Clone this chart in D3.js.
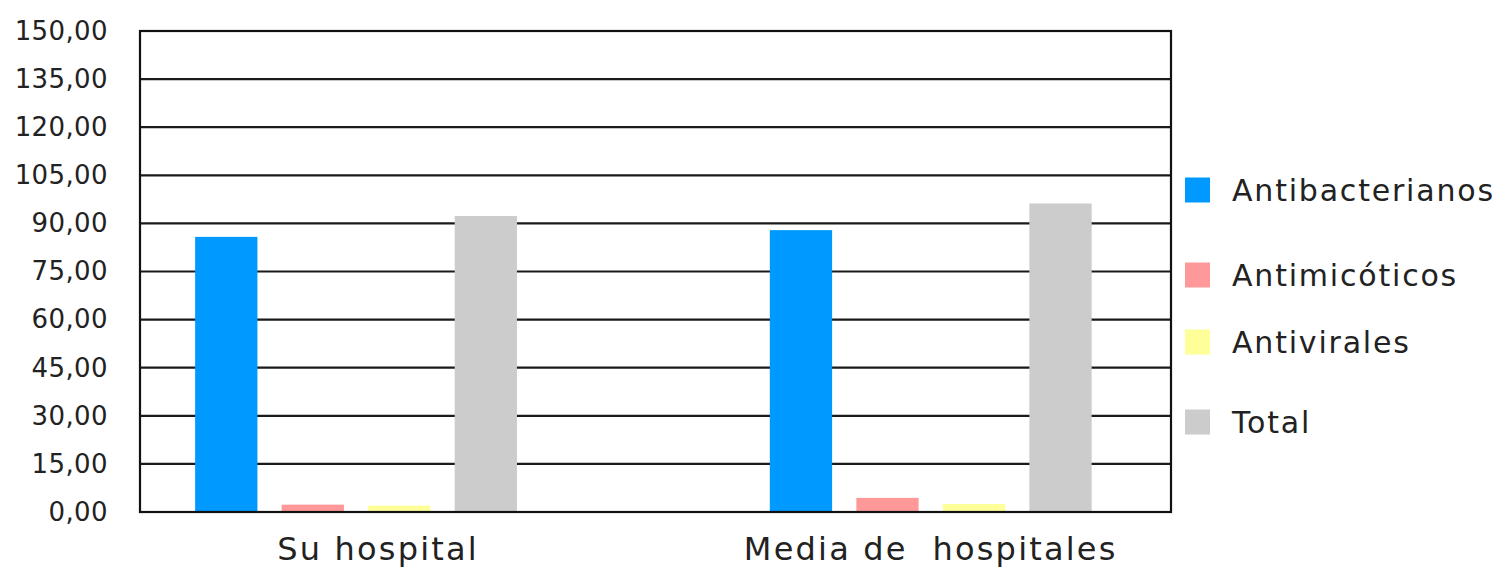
<!DOCTYPE html>
<html>
<head>
<meta charset="utf-8">
<script src="https://cdn.jsdelivr.net/npm/d3@7"></script>
<style>
  body { margin: 0; background: #fff; }
  svg { display: block; font-family: "DejaVu Sans", Verdana, sans-serif; }
</style>
</head>
<body>
<div id="chart"></div>
<script>
// chart data
var categories = ["Su hospital", "Media de  hospitales"];
var seriesNames = ["Antibacterianos", "Antimicóticos", "Antivirales", "Total"];
var seriesColors = ["#0099ff", "#ff9999", "#ffff99", "#cccccc"];
var suHospital = [85.8, 2.3, 2.0, 92.3];
var mediaHospitales = [87.9, 4.4, 2.5, 96.2];
var yTicks = [0, 15, 30, 45, 60, 75, 90, 105, 120, 135, 150];

var values = [suHospital, mediaHospitales];

var width = 1499, height = 571;
var margin = { top: 31, right: 328, bottom: 59, left: 140 };
var plotW = width - margin.left - margin.right;
var plotH = height - margin.top - margin.bottom;

var svg = d3.select("#chart").append("svg")
    .attr("width", width)
    .attr("height", height);

var g = svg.append("g")
    .attr("transform", "translate(" + margin.left + "," + margin.top + ")");

var y = d3.scaleLinear().domain([0, 150]).range([plotH, 0]);

var x0 = d3.scaleBand()
    .domain(categories)
    .range([0, plotW])
    .paddingInner(0.44)
    .paddingOuter(0.117)
    .align(0.41);

var x1 = d3.scaleBand()
    .domain(seriesNames)
    .range([0, x0.bandwidth()])
    .paddingInner(0.28);

// grid lines
g.append("g").selectAll("line")
    .data(yTicks)
    .enter()
    .append("line")
    .attr("x1", 0)
    .attr("x2", plotW)
    .attr("y1", function (d) { return y(d); })
    .attr("y2", function (d) { return y(d); })
    .attr("stroke", "#1a1a1a")
    .attr("stroke-width", 2.2);

// bars
var groups = g.selectAll(".grp")
    .data(categories)
    .enter()
    .append("g")
    .attr("class", "grp")
    .attr("transform", function (d) { return "translate(" + x0(d) + ",0)"; });

groups.selectAll("rect")
    .data(function (d, i) {
        return seriesNames.map(function (s, j) { return { s: s, v: values[i][j], c: seriesColors[j] }; });
    })
    .enter()
    .append("rect")
    .attr("x", function (d) { return x1(d.s); })
    .attr("y", function (d) { return y(d.v); })
    .attr("width", x1.bandwidth())
    .attr("height", function (d) { return y(0) - y(d.v); })
    .style("fill", function (d) { return d.c; });

// frame
g.append("rect")
    .attr("x", 0).attr("y", 0)
    .attr("width", plotW).attr("height", plotH)
    .attr("fill", "none")
    .attr("stroke", "#111")
    .attr("stroke-width", 2.2);

// y axis labels
var yAxis = d3.axisLeft(y)
    .tickValues(yTicks)
    .tickSize(0)
    .tickPadding(32)
    .tickFormat(function (d) { return d3.format(".2f")(d).replace(".", ","); });

var ya = g.append("g").call(yAxis);
ya.select(".domain").remove();
ya.selectAll("text")
    .attr("font-size", 26)
    .attr("letter-spacing", 0.4)
    .attr("font-family", "DejaVu Sans, Verdana, sans-serif")
    .attr("fill", "#222");

// x axis labels
var xa = g.append("g")
    .attr("transform", "translate(0," + plotH + ")");
xa.selectAll("text")
    .data(categories)
    .enter()
    .append("text")
    .attr("x", function (d, i) { return x0(d) + x0.bandwidth() / 2 + (i === 0 ? 22 : 0); })
    .attr("y", 48)
    .attr("text-anchor", "middle")
    .attr("font-size", 32)
    .attr("letter-spacing", 2.2)
    .style("white-space", "pre")
    .attr("fill", "#222")
    .text(function (d) { return d; });

// legend
var legendRows = [190, 275, 342, 422];
var legend = svg.append("g").attr("transform", "translate(1185,0)");
var items = legend.selectAll("g")
    .data(seriesNames)
    .enter()
    .append("g")
    .attr("transform", function (d, i) { return "translate(0," + legendRows[i] + ")"; });

items.append("rect")
    .attr("x", 0).attr("y", -12.5)
    .attr("width", 25).attr("height", 25)
    .style("fill", function (d, i) { return seriesColors[i]; });

items.append("text")
    .attr("x", 47)
    .attr("y", 0)
    .attr("dy", "0.36em")
    .attr("font-size", 30)
    .attr("letter-spacing", 1.8)
    .attr("fill", "#222")
    .text(function (d) { return d; });
</script>
</body>
</html>
